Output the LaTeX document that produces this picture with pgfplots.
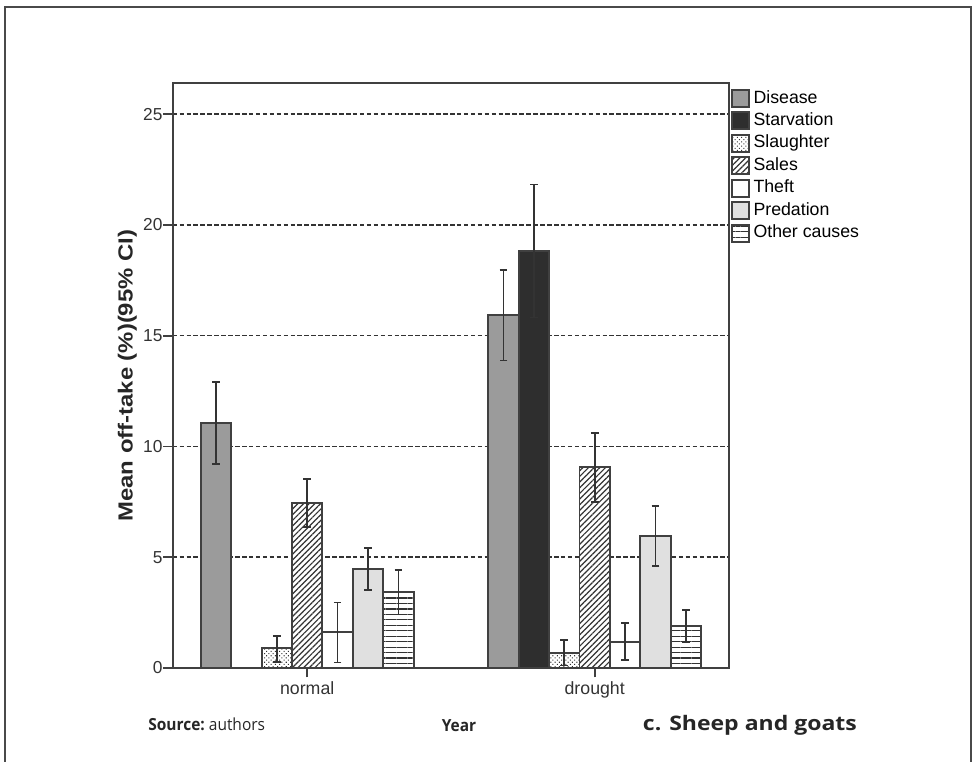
\documentclass[border=0pt]{standalone}
\usepackage{pgfplots}
\pgfplotsset{compat=1.18}
\usetikzlibrary{patterns.meta}
\usepackage{fontspec}
\setmainfont{Liberation Sans}
\newfontfamily\osans{Open Sans}
\definecolor{edge}{HTML}{404040}
\definecolor{framec}{HTML}{4A4A4A}
\definecolor{errc}{HTML}{333333}
\definecolor{disease}{HTML}{9B9B9B}
\definecolor{starv}{HTML}{2E2E2E}
\definecolor{pred}{HTML}{E0E0E0}
\begin{document}
\begin{tikzpicture}
\useasboundingbox (0,0) rectangle (729pt,571.5pt);
\draw[line width=1.4pt, color=framec] (3.5pt,-2pt) -- (3.5pt,566pt) -- (728pt,566pt) -- (728pt,-2pt);
\begin{axis}[
  at={(129.5pt,70.5pt)}, anchor=south west,
  scale only axis, width=417pt, height=438.5pt,
  xmin=-0.468, xmax=1.466, ymin=0, ymax=26.39,
  ybar=0pt, bar width=0.1058,
  xtick={0,1}, xticklabels={normal,drought},
  ytick={0,5,10,15,20,25},
  tick align=outside, xtick pos=bottom, ytick pos=left,
  major tick length=7pt,
  /pgf/number format/assume math mode=true,
  ymajorgrids,
  grid style={color=errc, line width=1.1pt, dash pattern=on 3.4pt off 1.8pt},
  axis line style={line width=1.4pt, color=edge},
  tick style={line width=1.3pt, color=edge},
  xticklabel style={font=\fontsize{13.3}{15}\selectfont, color=black!80},
  yticklabel style={font=\fontsize{13}{15}\selectfont, color=black!80, inner sep=0.5pt},
  ylabel={\scalebox{1.17}[1]{\bfseries Mean off-take (\%)(95\% CI)}},
  ylabel style={at={(axis description cs:-0.064,0.5)}, anchor=south, inner sep=0pt, font=\fontsize{15.3}{18}\selectfont, color=black!85},
  xlabel={\scalebox{0.93}[1]{\osans\bfseries Year}},
  xlabel style={at={(axis description cs:0.515,0)}, anchor=base, yshift=-47.6pt, inner sep=0pt, font=\fontsize{12.5}{14}\selectfont, color=black!85},
  every axis plot/.append style={draw=edge, line width=1.4pt},
  error bars/y dir=both, error bars/y explicit,
  error bars/error bar style={line width=1.3pt, color=errc},
  error bars/error mark options={rotate=90, mark size=2.9pt, line width=1.3pt, color=errc},
  legend image code/.code={\draw[#1] (0pt,-6.375pt) rectangle (12.75pt,6.375pt);},
  legend cell align=left,
  legend style={at={(rel axis cs:1,1)}, anchor=north west, xshift=1.5pt, yshift=-4pt,
    draw=none, fill=none, inner sep=0pt, row sep=2.7pt,
    font=\fontsize{13.3}{15}\selectfont,
    nodes={inner sep=0pt, text height=10pt, text depth=3pt},
    /tikz/every odd column/.append style={column sep=2.8pt}},
]
% Disease
\addplot[fill=disease] coordinates {
  (0,11.07) += (0,1.83) -= (0,1.87)
  (1,15.92) += (0,2.03) -= (0,2.04)
};
% Starvation
\addplot[fill=starv] coordinates {
  (1,18.82) += (0,3.00) -= (0,3.00)
};
% Slaughter
\addplot[fill=white, postaction={pattern={Dots[angle=45, distance=2.3pt, radius=0.55pt]}, pattern color=errc}] coordinates {
  (0,0.89) += (0,0.57) -= (0,0.61)
  (1,0.69) += (0,0.56) -= (0,0.58)
};
% Sales
\addplot[fill=white, postaction={pattern={Lines[angle=45, distance=3pt, line width=0.9pt]}, pattern color=errc}] coordinates {
  (0,7.43) += (0,1.09) -= (0,1.08)
  (1,9.06) += (0,1.54) -= (0,1.56)
};
% Theft
\addplot[fill=white] coordinates {
  (0,1.61) += (0,1.35) -= (0,1.36)
  (1,1.19) += (0,0.83) -= (0,0.84)
};
% Predation
\addplot[fill=pred] coordinates {
  (0,4.47) += (0,0.95) -= (0,0.95)
  (1,5.96) += (0,1.36) -= (0,1.37)
};
% Other causes
\addplot[fill=white, postaction={pattern={Lines[angle=0, distance=4.1pt, line width=0.95pt]}, pattern color=errc}] coordinates {
  (0,3.43) += (0,1.00) -= (0,1.02)
  (1,1.91) += (0,0.71) -= (0,0.75)
};
\legend{Disease,Starvation,Slaughter,Sales,Theft,Predation,Other causes}
\end{axis}
\node[anchor=base west, inner sep=0pt, font=\osans\fontsize{12.5}{14}\selectfont, color=black!85] at (111pt,23.6pt) {\scalebox{0.93}[1]{\bfseries Source:\mdseries\ authors}};
\node[anchor=base west, inner sep=0pt, font=\osans\bfseries\fontsize{15}{18}\selectfont, color=black!85] at (482pt,23.3pt) {\scalebox{1.15}[1]{c. Sheep and goats}};
\end{tikzpicture}
\end{document}
